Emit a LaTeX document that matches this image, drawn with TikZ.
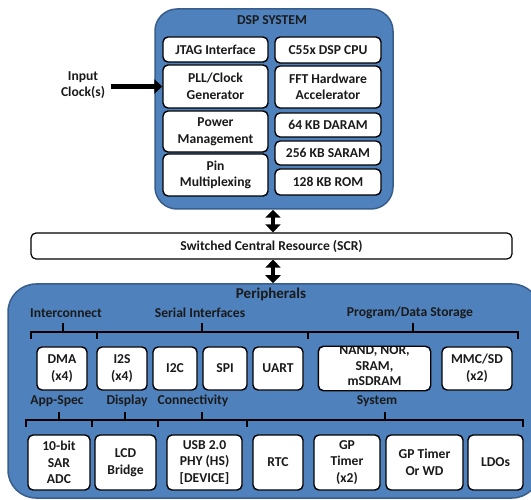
\documentclass[tikz,border=0pt]{standalone}
\usepackage{fontspec}
\setmainfont{Carlito}
\usetikzlibrary{arrows.meta}
\definecolor{bfill}{HTML}{4F81BD}
\definecolor{bline}{HTML}{385D8A}
\definecolor{txt}{HTML}{1A1A1A}
\tikzset{
  bx/.style={font=\fontsize{13.6}{16.5}\selectfont\bfseries, text=txt},
  blk/.style={draw=black, fill=white, rounded corners=5pt, line width=1.4pt, align=center, inner sep=0pt, bx},
  bigbox/.style={draw=bline, fill=bfill, line width=1.5pt, inner sep=0pt},
  lbl/.style={align=center, inner sep=0pt, bx},
  brc/.style={line width=2.2pt, line cap=butt},
  dbl/.style={line width=4.5pt, {Triangle[length=8pt,width=15pt]}-{Triangle[length=8pt,width=15pt]}},
  bigarrow/.style={line width=5pt, -{Triangle[length=8pt,width=14pt]}},
}
\begin{document}
\begin{tikzpicture}[x=1pt,y=-1pt]
\useasboundingbox (0,0) rectangle (531,500);
\clip (0,0) rectangle (531,500);
% DSP system
\node[bigbox, rounded corners=22pt, minimum width=238pt, minimum height=200pt] (dsp) at (274,109) {};
\node[lbl] (dsptitle) at (272,20) {DSP SYSTEM};
\node[blk, minimum width=105pt, minimum height=25pt] (jtag) at (215.5,49.5) {JTAG Interface};
\node[blk, minimum width=105pt, minimum height=43pt] (pll) at (215.5,86.5) {PLL/Clock\\Generator};
\node[blk, minimum width=105pt, minimum height=41pt] (pwr) at (215.5,131.5) {Power\\Management};
\node[blk, minimum width=105pt, minimum height=42pt] (pin) at (215.5,175) {Pin\\Multiplexing};
\node[blk, minimum width=106pt, minimum height=26pt] (cpu) at (328,50) {C55x DSP CPU};
\node[blk, minimum width=106pt, minimum height=42pt] (fft) at (328,87) {FFT Hardware\\Accelerator};
\node[blk, minimum width=106pt, minimum height=24pt] (daram) at (328,125) {64 KB DARAM};
\node[blk, minimum width=106pt, minimum height=24pt] (saram) at (328,153) {256 KB SARAM};
\node[blk, minimum width=106pt, minimum height=26pt] (rom) at (328,182) {128 KB ROM};
% input clock
\node[lbl] (inclk) at (83,85) {Input\\Clock(s)};
\coordinate (clkstart) at (111,87);
\draw[bigarrow] (clkstart |- pll.west) -- (pll.west);
% SCR
\node[draw=black, fill=white, rounded corners=5pt, line width=1.2pt, minimum width=481pt, minimum height=26pt, inner sep=0pt, bx] (scr) at (271.5,246) {Switched Central Resource (SCR)};
% Peripherals
\node[bigbox, rounded corners=28pt, minimum width=532pt, minimum height=214pt] (per) at (274,391) {};
\node[lbl, font=\fontsize{15}{17}\selectfont\bfseries] (pertitle) at (271,294) {Peripherals};
\coordinate (ax) at (273,0);
\draw[dbl] (dsp.south -| ax) -- (scr.north -| ax);
\draw[dbl] (scr.south -| ax) -- (per.north -| ax);
% top group labels
\node[lbl] (lint) at (66,313) {Interconnect};
\node[lbl] (lser) at (200,313) {Serial Interfaces};
\node[lbl] (lpds) at (410,313) {Program/Data Storage};
\draw[brc] (31,339) -- (31,332) -- (518,332) -- (518,339);
\draw[brc] (97,332) -- (97,339);
\draw[brc] (308,332) -- (308,339);
\draw[brc] (63,332) -- (63,323);
\draw[brc] (202,332) -- (202,323);
\draw[brc] (413,332) -- (413,323);
% row 1
\node[blk, minimum width=50pt, minimum height=43pt] (dma) at (62,368.5) {DMA\\(x4)};
\node[blk, minimum width=50pt, minimum height=43pt] (i2s) at (122,368.5) {I2S\\(x4)};
\node[blk, minimum width=44pt, minimum height=43pt] (i2c) at (175,368.5) {I2C};
\node[blk, minimum width=44pt, minimum height=43pt] (spi) at (225,368.5) {SPI};
\node[blk, minimum width=50pt, minimum height=43pt] (uart) at (278,368.5) {UART};
\begin{scope}
\node[blk, draw=none, minimum width=111pt, minimum height=43pt] (nand) at (374.5,368.5) {};
\clip[rounded corners=5pt] (nand.south west) rectangle (nand.north east);
\node[lbl, font=\fontsize{13.6}{15.5}\selectfont\bfseries] (nandtxt) at (374.5,366) {NAND, NOR,\\SRAM,\\mSDRAM};
\end{scope}
\draw[line width=1.4pt, rounded corners=5pt] (nand.south west) rectangle (nand.north east);
\node[blk, minimum width=70pt, minimum height=43pt] (mmc) at (477,368.5) {MMC/SD\\(x2)};
% row 1 labels
\node[lbl] (lapp) at (57,401) {App-Spec};
\node[lbl] (ldisp) at (127,401) {Display};
\node[lbl] (lconn) at (193,401) {Connectivity};
\node[lbl] (lsys) at (377,401) {System};
\draw[brc] (26,427) -- (26,420) -- (523,420) -- (523,427);
\draw[brc] (92,420) -- (92,427);
\draw[brc] (158,420) -- (158,427);
\draw[brc] (247,420) -- (247,427);
\draw[brc] (59,420) -- (59,412);
\draw[brc] (125,420) -- (125,412);
\draw[brc] (202,420) -- (202,412);
\draw[brc] (385,420) -- (385,412);
% row 2
\node[blk, minimum width=62pt, minimum height=55pt] (adc) at (59,462.5) {10-bit\\SAR\\ADC};
\node[blk, minimum width=61pt, minimum height=55pt] (lcd) at (125.5,462.5) {LCD\\Bridge};
\node[blk, minimum width=75pt, minimum height=55pt] (usb) at (204.5,462.5) {USB 2.0\\PHY (HS)\\\relax[DEVICE]};
\node[blk, minimum width=50pt, minimum height=55pt] (rtc) at (278,462.5) {RTC};
\node[blk, minimum width=66pt, minimum height=55pt] (gpt) at (347,462.5) {GP\\Timer\\(x2)};
\node[blk, minimum width=77pt, minimum height=55pt] (gpwd) at (424.5,462.5) {GP Timer\\Or WD};
\node[blk, minimum width=55pt, minimum height=55pt] (ldo) at (495.5,462.5) {LDOs};
\end{tikzpicture}
\end{document}
